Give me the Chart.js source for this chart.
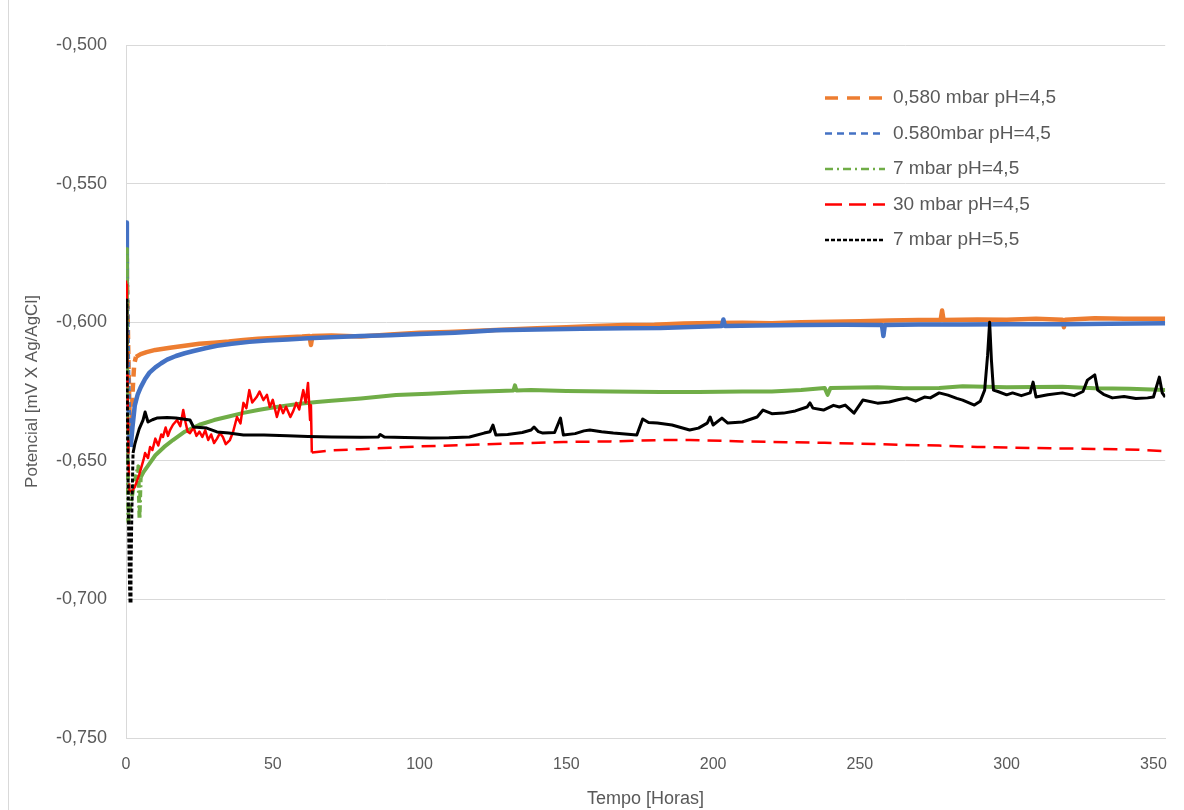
<!DOCTYPE html>
<html>
<head>
<meta charset="utf-8">
<script src="https://cdn.jsdelivr.net/npm/chart.js@4.4.1/dist/chart.umd.min.js"></script>
<style>
  html, body { margin: 0; padding: 0; background: #fff; }
  #wrap { width: 1184px; height: 810px; position: relative; }
</style>
</head>
<body>
<div id="wrap"><canvas id="potencial-chart" width="1184" height="810"></canvas></div>
<script>
// series values (hours, volts)
const orangeHours = [0, 0.3, 0.6, 0.9, 1.2, 1.5, 1.9, 2.3, 2.8, 3.4, 5, 7, 10, 15, 20, 25, 30, 35, 40, 45, 50, 55, 60, 62.5, 63, 63.5, 70, 80, 90, 100, 110, 120, 130, 140, 150, 160, 170, 180, 190, 200, 210, 220, 230, 240, 250, 260, 270, 277.5, 278, 278.5, 290, 300, 310, 319, 319.5, 320, 330, 340, 354];
const orangeValues = [-0.577, -0.583, -0.600, -0.618, -0.632, -0.641, -0.636, -0.624, -0.615, -0.6125, -0.6115, -0.6108, -0.6100, -0.6092, -0.6085, -0.6078, -0.6074, -0.6070, -0.6064, -0.6060, -0.6057, -0.6054, -0.6052, -0.6050, -0.6082, -0.6050, -0.6048, -0.6052, -0.6044, -0.6038, -0.6035, -0.6031, -0.6026, -0.6022, -0.6018, -0.6014, -0.6010, -0.6009, -0.6005, -0.6003, -0.6002, -0.6004, -0.6000, -0.5998, -0.5997, -0.5994, -0.5992, -0.5992, -0.5958, -0.5992, -0.5990, -0.5991, -0.5988, -0.5991, -0.6018, -0.5991, -0.5986, -0.5988, -0.5988];

const blueHours = [0, 0.3, 0.6, 0.9, 1.2, 1.6, 2.2, 3, 4, 5, 6.5, 8, 10, 12, 14, 17, 20, 23, 27, 31, 36, 42, 48, 55, 62, 70, 80, 90, 100, 112, 126, 140, 155, 170, 182, 195, 203, 203.5, 204, 215, 230, 245, 257.5, 258, 258.5, 270, 285, 300, 320, 335, 354];
const blueValues = [-0.564, -0.585, -0.610, -0.630, -0.642, -0.645, -0.638, -0.630, -0.626, -0.6235, -0.6205, -0.6182, -0.6163, -0.6148, -0.6135, -0.6122, -0.6112, -0.6104, -0.6094, -0.6085, -0.6078, -0.6071, -0.6066, -0.6062, -0.6058, -0.6054, -0.6050, -0.6047, -0.6043, -0.6038, -0.6029, -0.6026, -0.6024, -0.6022, -0.6021, -0.6016, -0.6014, -0.5990, -0.6014, -0.6012, -0.6010, -0.6009, -0.6010, -0.6050, -0.6010, -0.6008, -0.6008, -0.6007, -0.6007, -0.6006, -0.6004];

const greenHours = [0, 0.3, 0.5, 0.8, 1.5, 2.5, 3.5, 4.2, 4.6, 5.0, 6, 8, 10, 13, 16, 20, 25, 30, 35, 40, 45, 50, 55, 60, 65, 70, 80, 92, 103, 115, 127, 132, 132.5, 133, 138, 150, 165, 182, 195, 210, 220, 230, 238, 239, 240, 256, 265, 277, 285, 300, 319, 330, 342, 354];
const greenValues = [-0.573, -0.600, -0.640, -0.672, -0.666, -0.660, -0.655, -0.652, -0.671, -0.656, -0.654, -0.651, -0.648, -0.645, -0.6425, -0.6395, -0.6370, -0.6353, -0.6340, -0.6327, -0.6317, -0.6308, -0.6300, -0.6293, -0.6288, -0.6283, -0.6275, -0.6263, -0.6258, -0.6252, -0.6248, -0.6246, -0.6228, -0.6246, -0.6245, -0.6248, -0.6250, -0.6252, -0.6252, -0.6250, -0.6250, -0.6245, -0.6237, -0.6262, -0.6237, -0.6235, -0.6238, -0.6237, -0.6231, -0.6235, -0.6233, -0.6238, -0.6240, -0.6245];

const redHours = [0, 0.3, 0.6, 0.9, 1.2, 2, 3, 4.5, 6, 6.5, 7.5, 8.2, 9, 10, 11, 12, 12.6, 13.5, 14.3, 15, 16, 17.4, 18.5, 19.5, 20.3, 21, 21.8, 23, 24, 25, 26, 27, 28, 29, 30, 31, 32, 33, 34, 35.4, 36.5, 37.8, 39, 40, 41, 42, 43, 44.5, 45.5, 46.8, 48, 49, 50, 51.4, 52.5, 53.5, 54.5, 56, 57, 58, 59, 60.4, 61.2, 62, 62.7, 63, 63.3, 65, 70, 80, 90, 100, 115, 130, 149, 165, 182, 192, 210, 225, 238, 250, 265, 277, 290, 300, 315, 330, 345, 354];
const redValues = [-0.585, -0.600, -0.630, -0.652, -0.661, -0.661, -0.6595, -0.655, -0.6495, -0.6472, -0.6490, -0.6450, -0.6461, -0.6420, -0.6445, -0.6405, -0.6414, -0.6380, -0.6410, -0.6389, -0.6370, -0.6353, -0.6375, -0.6317, -0.6362, -0.6395, -0.6400, -0.6380, -0.6410, -0.6395, -0.6414, -0.6390, -0.6425, -0.6405, -0.6436, -0.6420, -0.6400, -0.6414, -0.6440, -0.6425, -0.6395, -0.6342, -0.6365, -0.6291, -0.6310, -0.6245, -0.6290, -0.6270, -0.6250, -0.6281, -0.6262, -0.6306, -0.6280, -0.6342, -0.6300, -0.6328, -0.6305, -0.6342, -0.6320, -0.6291, -0.6315, -0.6245, -0.6290, -0.6219, -0.6353, -0.6300, -0.6470, -0.6468, -0.6462, -0.6458, -0.6453, -0.6448, -0.6443, -0.6438, -0.6432, -0.6430, -0.6425, -0.6425, -0.6430, -0.6433, -0.6435, -0.6438, -0.6443, -0.6445, -0.6450, -0.6452, -0.6455, -0.6457, -0.6460, -0.6465];

const blackHours = [0, 0.3, 0.6, 0.9, 1.2, 1.4, 1.7, 2.0, 2.4, 3.0, 3.7, 4.5, 5.8, 6.5, 7.5, 9, 10.5, 14, 17, 20, 21.8, 23, 27.5, 31, 35, 40, 47, 55, 62, 70, 80, 86, 86.6, 88, 95, 103.6, 110, 117, 122, 124, 125, 126, 130, 135, 138, 139, 140.5, 142, 146, 148, 149, 153, 156, 158, 162, 166, 170, 174, 176, 178, 181, 186, 192, 195, 198, 199, 200, 203, 205, 210, 215, 217, 220, 224, 228, 232, 233, 234, 237.6, 241, 243, 245, 248, 251, 256, 260, 263, 266, 269, 272, 274, 277, 280, 283, 285, 289, 291, 292.5, 293.5, 294.2, 294.8, 295.5, 297, 300, 302, 305, 308, 309, 310, 314, 319, 323, 326, 327.5, 330, 331, 333, 336, 340, 344, 348, 350, 352, 353, 354];
const blackValues = [-0.592, -0.615, -0.645, -0.675, -0.695, -0.7013, -0.690, -0.668, -0.6472, -0.6440, -0.6414, -0.6385, -0.6353, -0.6324, -0.6360, -0.6352, -0.6346, -0.6344, -0.6346, -0.6350, -0.6353, -0.6378, -0.6382, -0.6396, -0.6400, -0.6407, -0.6407, -0.6410, -0.6412, -0.6414, -0.6415, -0.6414, -0.6405, -0.6414, -0.6416, -0.6418, -0.6417, -0.6414, -0.6400, -0.6395, -0.6371, -0.6407, -0.6405, -0.6398, -0.6389, -0.6378, -0.6395, -0.6400, -0.6398, -0.6346, -0.6407, -0.6402, -0.6392, -0.6389, -0.6395, -0.6400, -0.6403, -0.6407, -0.6349, -0.6362, -0.6364, -0.6371, -0.6389, -0.6382, -0.6364, -0.6342, -0.6371, -0.6346, -0.6364, -0.6360, -0.6342, -0.6317, -0.6330, -0.6328, -0.6320, -0.6306, -0.6291, -0.6310, -0.6317, -0.6300, -0.6306, -0.6299, -0.6328, -0.6281, -0.6292, -0.6288, -0.6280, -0.6273, -0.6285, -0.6270, -0.6273, -0.6255, -0.6263, -0.6275, -0.6281, -0.6299, -0.6285, -0.6245, -0.6120, -0.6000, -0.6136, -0.6245, -0.6250, -0.6262, -0.6255, -0.6265, -0.6255, -0.6216, -0.6270, -0.6262, -0.6255, -0.6265, -0.6250, -0.6209, -0.6190, -0.6245, -0.6260, -0.6273, -0.6268, -0.6275, -0.6273, -0.6270, -0.6198, -0.6255, -0.6270];

// axis ticks
const xTicks = [0, 50, 100, 150, 200, 250, 300, 350];
const yTicks = [-0.750, -0.700, -0.650, -0.600, -0.550, -0.500];

const textGray = '#595959';
const gridGray = '#d9d9d9';
const fontFamily = "'Liberation Sans', Arial, sans-serif";

function toPoints(hours, values){
    return hours.map((h, i) => ({x: h, y: values[i]}));
}

// dashed where the logger data is sparse, solid where it is dense
function dashIn(pattern, ranges){
    return ctx => {
        const x = ctx.p0.parsed.x;
        return ranges.some(r => x >= r[0] && x < r[1]) ? pattern : [];
    };
}

const datasets = [
    {
        label: '0,580 mbar pH=4,5',
        data: toPoints(orangeHours, orangeValues),
        borderColor: '#ED7D31',
        borderWidth: 4.5,
        legendDash: [13, 9],
        legendWidth: 3.5,
        segment: { borderDash: dashIn([9, 6], [[0, 3.4]]) },
        order: 5
    },
    {
        label: '0.580mbar pH=4,5',
        data: toPoints(blueHours, blueValues),
        borderColor: '#4472C4',
        borderWidth: 4.5,
        legendDash: [7, 5],
        legendWidth: 2.5,
        segment: { borderDash: dashIn([5, 3], [[0, 1.6]]) },
        order: 4
    },
    {
        label: '7 mbar pH=4,5',
        data: toPoints(greenHours, greenValues),
        borderColor: '#70AD47',
        borderWidth: 4,
        legendDash: [8, 4, 2, 4],
        legendWidth: 2.5,
        segment: { borderDash: dashIn([7, 3, 2, 3], [[0, 5]]) },
        order: 3
    },
    {
        label: '30 mbar pH=4,5',
        data: toPoints(redHours, redValues),
        borderColor: '#FF0000',
        borderWidth: 2.5,
        legendDash: [17, 7],
        legendWidth: 2.5,
        segment: { borderDash: dashIn([14, 8], [[0, 1.2], [63.3, 400]]) },
        order: 2
    },
    {
        label: '7 mbar pH=5,5',
        data: toPoints(blackHours, blackValues),
        borderColor: '#000000',
        borderWidth: 3,
        legendDash: [4, 2],
        legendWidth: 2.5,
        segment: { borderDash: dashIn([4, 2], [[0, 2.4]]) },
        order: 1
    }
];

// legend drawn inside the plot, top right
const insideLegend = {
    id: 'insideLegend',
    afterDraw(chart){
        const ctx = chart.ctx;
        ctx.save();
        ctx.font = '19px ' + fontFamily;
        ctx.textBaseline = 'middle';
        ctx.fillStyle = textGray;
        chart.data.datasets.forEach((ds, i) => {
            const y = 98 + i * 35.5;
            ctx.beginPath();
            ctx.setLineDash(ds.legendDash);
            ctx.lineWidth = ds.legendWidth;
            ctx.strokeStyle = ds.borderColor;
            ctx.moveTo(825, y);
            ctx.lineTo(885, y);
            ctx.stroke();
            ctx.setLineDash([]);
            ctx.fillText(ds.label, 893, y);
        });
        // chart area frame on the left
        ctx.beginPath();
        ctx.strokeStyle = gridGray;
        ctx.lineWidth = 1;
        ctx.moveTo(8.5, 0);
        ctx.lineTo(8.5, 810);
        ctx.stroke();
        ctx.restore();
    }
};

new Chart(document.getElementById('potencial-chart'), {
    type: 'line',
    data: { datasets: datasets },
    options: {
        responsive: false,
        animation: false,
        devicePixelRatio: 1,
        layout: { padding: { left: 0, top: 45, right: 18, bottom: 0 } },
        elements: {
            point: { radius: 0 },
            line: { tension: 0, borderJoinStyle: 'round', borderCapStyle: 'butt' }
        },
        plugins: {
            legend: { display: false },
            tooltip: { enabled: false }
        },
        scales: {
            x: {
                type: 'linear',
                min: 0,
                max: 354,
                afterFit(scale){ scale.height = 72; },
                afterBuildTicks(scale){ scale.ticks = xTicks.map(v => ({value: v})); },
                grid: { display: false, drawTicks: false },
                border: { display: true, color: gridGray, width: 1 },
                ticks: {
                    color: textGray,
                    padding: 17,
                    maxRotation: 0,
                    font: { family: fontFamily, size: 16 }
                },
                title: {
                    display: true,
                    text: 'Tempo [Horas]',
                    color: textGray,
                    padding: { top: 0, bottom: 0 },
                    font: { family: fontFamily, size: 18 }
                }
            },
            y: {
                min: -0.75,
                max: -0.5,
                afterFit(scale){ scale.width = 126; },
                afterBuildTicks(scale){ scale.ticks = yTicks.map(v => ({value: v})); },
                grid: { color: gridGray, lineWidth: 1, drawTicks: false },
                border: { display: true, color: gridGray, width: 1 },
                ticks: {
                    color: textGray,
                    padding: 19,
                    font: { family: fontFamily, size: 18 },
                    callback: v => v.toFixed(3).replace('.', ',')
                },
                title: {
                    display: true,
                    text: 'Potencial [mV X Ag/AgCl]',
                    color: textGray,
                    padding: { top: 22, bottom: 0 },
                    font: { family: fontFamily, size: 17 }
                }
            }
        }
    },
    plugins: [insideLegend]
});
</script>
</body>
</html>
